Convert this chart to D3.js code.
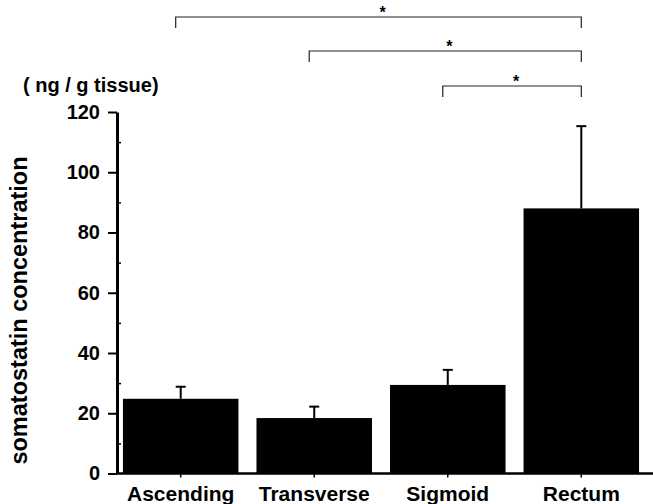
<!DOCTYPE html>
<html>
<head>
<meta charset="utf-8">
<script src="https://cdn.jsdelivr.net/npm/d3@7"></script>
<style>
  html, body { margin: 0; padding: 0; background: #fff; }
  svg { display: block; }
  text { font-family: "Liberation Sans", Arial, sans-serif; font-weight: bold; fill: #000; }
</style>
</head>
<body>
<svg id="chart" width="653" height="504"></svg>
<script>
const categories = ["Ascending", "Transverse", "Sigmoid", "Rectum"];
const means = [24.8, 18.4, 29.4, 88.0];
const errors = [4.0, 3.8, 5.0, 27.3];
const yTicks = [0, 20, 40, 60, 80, 100, 120];
const yMinorTicks = [10, 30, 50, 70, 90, 110];
const comparisons = [
  { from: "Ascending", to: "Rectum", label: "*" },
  { from: "Transverse", to: "Rectum", label: "*" },
  { from: "Sigmoid", to: "Rectum", label: "*" }
];
const yTitle = "somatostatin concentration";
const unitLabel = "( ng / g tissue)";

const svg = d3.select("#chart");
const axisX = 117;
const y = d3.scaleLinear().domain([0, 120]).range([473.5, 112]);
const x = d3.scaleBand().domain(categories).range([axisX + 1, 644])
  .paddingInner(0.135).paddingOuter(0.037);

// bars
svg.append("g").selectAll("rect").data(categories).join("rect")
  .attr("x", d => x(d))
  .attr("y", (d, i) => y(means[i]))
  .attr("width", x.bandwidth())
  .attr("height", (d, i) => y(0) - y(means[i]))
  .attr("fill", "#000");

// error bars
const eg = svg.append("g").attr("stroke", "#000");
categories.forEach((c, i) => {
  const cx = x(c) + x.bandwidth() / 2;
  eg.append("line").attr("x1", cx).attr("x2", cx)
    .attr("y1", y(means[i])).attr("y2", y(means[i] + errors[i])).attr("stroke-width", 2);
  eg.append("line").attr("x1", cx - 5).attr("x2", cx + 5)
    .attr("y1", y(means[i] + errors[i])).attr("y2", y(means[i] + errors[i])).attr("stroke-width", 2);
});

// x axis
const xAxis = d3.axisBottom(x).tickSize(4).tickSizeOuter(0).tickPadding(9);
const gx = svg.append("g").attr("transform", `translate(0,${y(0)})`).call(xAxis);
gx.select(".domain").remove();
gx.append("line").attr("x1", axisX).attr("x2", 653).attr("y1", 0).attr("y2", 0)
  .attr("stroke", "#000").attr("stroke-width", 2.5);
gx.selectAll(".tick line").attr("stroke", "#000").attr("stroke-width", 1.5);
gx.selectAll(".tick text").attr("font-size", 21).attr("font-family", '"Liberation Sans", Arial, sans-serif')
  .attr("font-weight", "bold").attr("fill", "#000").attr("dy", "0.71em");

// y axis
const yAxis = d3.axisLeft(y).tickValues(yTicks).tickSize(9).tickSizeOuter(0).tickPadding(8);
const gy = svg.append("g").attr("transform", `translate(${axisX},0)`).call(yAxis);
gy.select(".domain").attr("stroke", "#000").attr("stroke-width", 3);
gy.selectAll(".tick line").attr("stroke", "#000").attr("stroke-width", 2);
gy.selectAll(".tick text").attr("font-size", 20).attr("font-family", '"Liberation Sans", Arial, sans-serif')
  .attr("font-weight", "bold").attr("fill", "#000");
const yMinor = d3.axisRight(y).tickValues(yMinorTicks).tickSize(4).tickFormat("");
const gym = svg.append("g").attr("transform", `translate(${axisX},0)`).call(yMinor);
gym.select(".domain").remove();
gym.selectAll(".tick line").attr("stroke", "#000").attr("stroke-width", 1.5);

// y title
svg.append("text")
  .attr("transform", `translate(27,310.5) rotate(-90)`)
  .attr("text-anchor", "middle")
  .attr("font-size", 23.5)
  .text(yTitle);

// unit label
svg.append("text").attr("x", 23).attr("y", 92).attr("font-size", 20).text(unitLabel);

// significance brackets
const bracketY = [17, 51, 86];
const bg = svg.append("g");
comparisons.forEach((cmp, i) => {
  const x1 = x(cmp.from) + x.bandwidth() / 2 - 5;
  const x2 = x(cmp.to) + x.bandwidth() / 2;
  const by = bracketY[i];
  bg.append("path")
    .attr("d", `M${x1},${by + 11}V${by}H${x2}V${by + 11}`)
    .attr("fill", "none").attr("stroke", "#222").attr("stroke-width", 1.2);
  bg.append("text").attr("x", (x1 + x2) / 2 + 4).attr("y", by + 1)
    .attr("text-anchor", "middle").attr("font-size", 16).attr("font-weight", "bold")
    .text(cmp.label);
});
</script>
</body>
</html>
